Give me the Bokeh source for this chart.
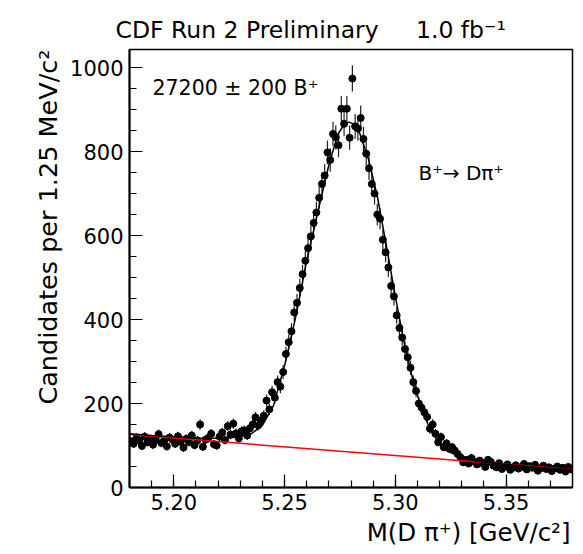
import math
import numpy as np
from bokeh.plotting import figure
from bokeh.models import Range1d, SingleIntervalTicker, NumeralTickFormatter, Label, Title
from bokeh.embed import file_html
from bokeh.resources import INLINE

# ---------------- data ----------------
x_lo, x_hi = 5.18, 5.38
bin_width = 0.00125  # GeV

counts = [
    110, 104, 118, 112, 99, 121, 108, 115, 102, 113, 127, 106, 111, 98,
    119, 114, 104, 122, 109, 95, 116, 108, 124, 101, 112, 150, 97, 114,
    118, 128, 103, 100, 121, 131, 113, 146, 126, 152, 129, 117, 134,
    136, 124, 141, 150, 167, 148, 160, 171, 207, 186,
    227, 214, 251, 240, 275, 318, 346, 372, 417, 440,
    475, 508, 540, 570, 598, 630, 655,
    690, 723, 743, 798, 780, 842, 834, 815, 902, 866, 902, 833,
    974,
    860, 855, 880, 830, 795, 760, 723,
    700, 650, 640, 590, 560, 524,
    480, 455, 410, 380, 357,
    330, 310, 285, 251, 230, 200,
    190, 179, 168, 140, 150, 128, 108, 120,
    96, 105, 92, 96, 88, 80, 72, 60,
    66, 57, 70, 62, 55, 64, 58, 49, 66, 61,
    52, 48, 58, 44, 50, 55, 42, 47, 53, 45, 49, 56, 43, 51, 47, 54, 40,
    46, 52, 44, 48, 39, 45, 50, 42, 47, 38, 49, 43,
]

fit_x = [5.180, 5.190, 5.200, 5.210, 5.220, 5.225, 5.230, 5.235, 5.240,
         5.245, 5.250, 5.255, 5.260, 5.265, 5.270, 5.274, 5.277, 5.279,
         5.281, 5.284, 5.288, 5.292, 5.296, 5.300, 5.304, 5.308, 5.312,
         5.316, 5.320, 5.325, 5.330, 5.335, 5.340, 5.350, 5.360, 5.370, 5.380]
fit_y = [128, 124, 121, 118, 117, 118, 122, 128, 148,
         195, 290, 405, 540, 655, 768, 840, 866, 870,
         866, 843, 780, 690, 575, 455, 345, 255, 185,
         135, 105, 83, 72, 65, 60, 55, 50, 46, 42]

bkg_x = [5.18, 5.38]
bkg_y = [126, 43]

NB = "\u00a0"
title_text = "CDF Run 2 Preliminary" + NB * 5 + "1.0 fb\u207b\u00b9"
x_axis_label = "M(D \u03c0\u207a) [GeV/c\u00b2]"
y_axis_label = "Candidates per 1.25 MeV/c\u00b2"
yield_text = "27200 \u00b1 200 B\u207a"
decay_text = "B\u207a\u2192 D\u03c0\u207a"

# ---------------- derived ----------------
counts_a = np.array(counts, dtype=float)
centers = x_lo + bin_width * (np.arange(len(counts_a)) + 0.5)
err = np.sqrt(counts_a)

W, H = 583, 554
FL, FR, FT, FB = 129, 572, 49, 487   # frame edges in px
Y_TOP = 1043

def X(px):
    return x_lo + (px - FL) * (x_hi - x_lo) / (FR - FL)

def Y(py):
    return (FB - py) * Y_TOP / (FB - FT)

FONT = "DejaVu Sans"

p = figure(width=W, height=H, x_range=Range1d(x_lo, x_hi), y_range=Range1d(0, Y_TOP),
           output_backend="svg", toolbar_location=None, title=None,
           min_border_left=FL, min_border_right=W - FR,
           min_border_top=FT, min_border_bottom=H - FB)
p.background_fill_color = "white"
p.border_fill_color = "white"
p.xgrid.visible = False
p.ygrid.visible = False
p.outline_line_color = "black"
p.outline_line_width = 1.5

for ax in (p.xaxis[0], p.yaxis[0]):
    ax.major_tick_in = 13
    ax.major_tick_out = 0
    ax.minor_tick_in = 7
    ax.minor_tick_out = 0
    ax.axis_line_color = "black"
    ax.axis_line_width = 2
    ax.major_tick_line_color = "black"
    ax.minor_tick_line_color = "black"
    ax.major_tick_line_width = 1.2
    ax.minor_tick_line_width = 1.2
    ax.major_label_text_font = FONT
    ax.major_label_text_font_size = "21px"
    ax.major_label_text_color = "black"
    ax.major_label_standoff = 6

p.xaxis.ticker = SingleIntervalTicker(interval=0.05, num_minor_ticks=5)
p.yaxis.ticker = SingleIntervalTicker(interval=200, num_minor_ticks=4)
p.xaxis.formatter = NumeralTickFormatter(format="0.00")
p.yaxis.formatter = NumeralTickFormatter(format="0")

# error bars and points
p.segment(x0=centers, y0=counts_a - err, x1=centers, y1=counts_a + err,
          line_color="#222222", line_width=1.2)
p.scatter(centers, counts_a, size=7, color="black")

# fit curves
p.line(bkg_x, bkg_y, line_color="red", line_width=1.5)
p.line(fit_x, fit_y, line_color="black", line_width=1.5)

def lab(px, py, text, size, align="left"):
    p.add_layout(Label(x=X(px), y=Y(py), text=text, text_font=FONT,
                       text_font_size=f"{size}px", text_color="black",
                       text_align=align, text_baseline="alphabetic"))

lab(152, 87, yield_text, 20.5)
lab(418, 172, decay_text, 20)

def side_title(text, side, size, align, offset, standoff):
    p.add_layout(Title(text=text, align=align, offset=offset, standoff=standoff,
                       text_font=FONT, text_font_size=f"{size}px",
                       text_font_style="normal", text_color="black"), side)

side_title(title_text, "above", 23.5, "left", -14, 11)
side_title(x_axis_label, "below", 24.5, "right", 2, 6)
side_title(y_axis_label, "left", 25.5, "right", 0, 9)

open("out.html", "w").write(file_html(p, INLINE))
